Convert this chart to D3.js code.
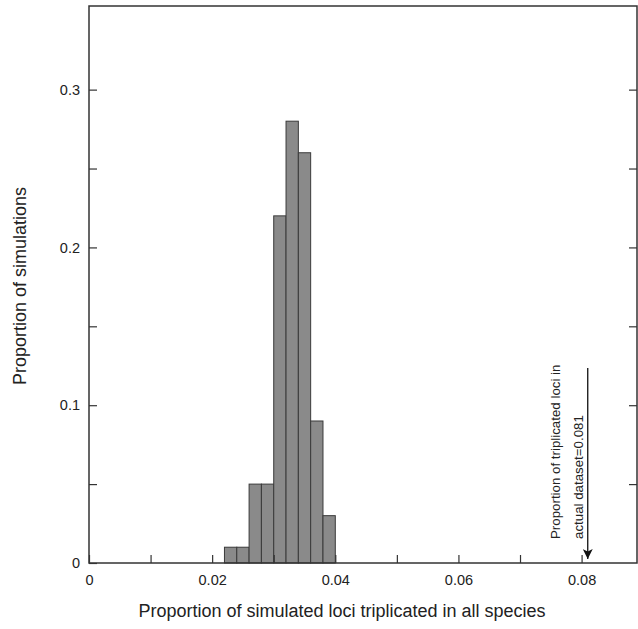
<!DOCTYPE html>
<html><head><meta charset="utf-8">
<script src="https://cdn.jsdelivr.net/npm/d3@7"></script>
<style>body{margin:0;background:#fff}svg{display:block}text{font-family:"Liberation Sans",Arial,sans-serif;fill:#222}</style>
</head><body>
<script>
const binStarts = [0.022,0.024,0.026,0.028,0.030,0.032,0.034,0.036,0.038];
const binWidth = 0.002;
const proportions = [0.01,0.01,0.05,0.05,0.22,0.28,0.26,0.09,0.03];
const xTickLabels = [0,0.02,0.04,0.06,0.08];
const yTickLabels = [0,0.1,0.2,0.3];
const observed = 0.081;
const annotationLines = ["Proportion of triplicated loci in","actual dataset=0.081"];

const W=638,H=629;
const m={l:89,r:1,t:6,b:66};
const yMax=0.353;
const svg=d3.select("body").append("svg").attr("width",W).attr("height",H);
const x=d3.scaleLinear().domain([0,0.089]).range([m.l,W-m.r]);
const y=d3.scaleLinear().domain([0,yMax]).range([H-m.b,m.t]);
const ink="#333";

svg.selectAll("rect.bar").data(proportions).join("rect").attr("class","bar")
 .attr("x",(d,i)=>x(binStarts[i])).attr("width",(d,i)=>x(binStarts[i]+binWidth)-x(binStarts[i]))
 .attr("y",d=>y(d)).attr("height",d=>y(0)-y(d))
 .attr("fill","#8a8a8a").attr("stroke","#3a3a3a").attr("stroke-width",1);

// frame
svg.append("rect").attr("x",x(0)).attr("y",y(yMax)).attr("width",x(0.089)-x(0)).attr("height",y(0)-y(yMax))
 .attr("fill","none").attr("stroke",ink).attr("stroke-width",1.5);

const xAxis=d3.axisBottom(x).tickValues(d3.range(0,0.0891,0.01)).tickSize(-8).tickFormat(d=>xTickLabels.some(v=>Math.abs(v-d)<1e-9)?d3.format("")(+d.toFixed(2)):"").tickPadding(12);
const gx=svg.append("g").attr("transform",`translate(0,${y(0)})`).call(xAxis);
gx.select(".domain").remove();
gx.selectAll("line").attr("stroke",ink).attr("stroke-width",1.2);
gx.selectAll("text").attr("font-size",14.5).style("fill","#222");

const yTicks=d3.range(0,0.301,0.05);
const yAxis=d3.axisLeft(y).tickValues(yTicks).tickSize(-8).tickFormat(d=>yTickLabels.some(v=>Math.abs(v-d)<1e-9)?d3.format("")(+d.toFixed(1)):"").tickPadding(9);
const gy=svg.append("g").attr("transform",`translate(${x(0)},0)`).call(yAxis);
gy.select(".domain").remove();
gy.selectAll("line").attr("stroke",ink).attr("stroke-width",1.2);
gy.selectAll("text").attr("font-size",14.5).style("fill","#222");

const gr=svg.append("g").attr("transform",`translate(${x(0.089)},0)`).call(d3.axisRight(y).tickValues(yTicks.slice(1)).tickSize(-8).tickFormat(""));
gr.select(".domain").remove();
gr.selectAll("line").attr("stroke",ink).attr("stroke-width",1.2);

// axis titles
svg.append("text").attr("x",342).attr("y",617).attr("text-anchor","middle").attr("font-size",18).text("Proportion of simulated loci triplicated in all species");
svg.append("text").attr("transform","translate(26,286) rotate(-90)").attr("text-anchor","middle").attr("font-size",18).text("Proportion of simulations");

// annotation arrow
svg.append("defs").append("marker").attr("id","ah").attr("viewBox","0 0 10 10").attr("refX",10).attr("refY",5)
 .attr("markerWidth",14).attr("markerHeight",10).attr("markerUnits","userSpaceOnUse").attr("orient","auto")
 .append("path").attr("d","M0,0L10,5L0,10L2.5,5Z").attr("fill","#111");
svg.append("line").attr("x1",x(observed)).attr("x2",x(observed)).attr("y1",368).attr("y2",y(0)-4)
 .attr("stroke","#111").attr("stroke-width",1.3).attr("marker-end","url(#ah)");
annotationLines.forEach((t,i)=>{
 svg.append("text").attr("transform",`translate(${x(observed)-28+i*23},539) rotate(-90)`).attr("font-size",13.3).text(t);
});
</script>
</body></html>
